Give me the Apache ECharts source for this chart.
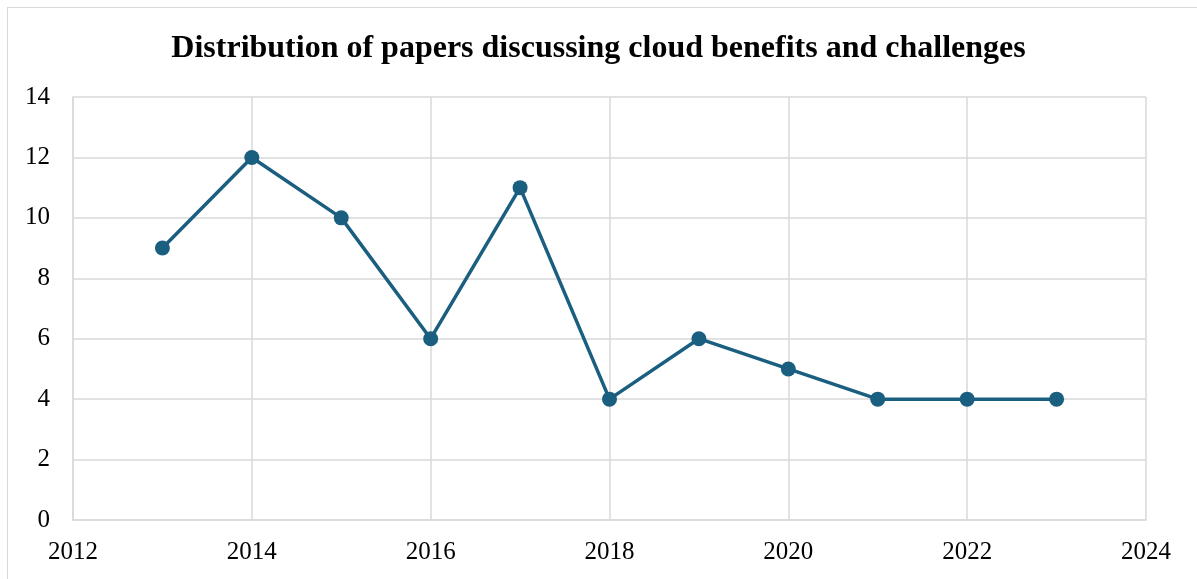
<!DOCTYPE html>
<html><head><meta charset="utf-8">
<script src="https://cdn.jsdelivr.net/npm/echarts@6/dist/echarts.min.js"></script>
<style>
html,body{margin:0;padding:0;background:#fff;}
#frame{position:absolute;left:7px;top:7px;width:1200px;height:600px;border:1.5px solid #d9d9d9;box-sizing:border-box;}
#c{position:absolute;left:0;top:0;width:1197px;height:579px;}
</style>
</head><body>
<div id="frame"></div>
<div id="c"></div>
<script>
const years = [2013, 2014, 2015, 2016, 2017, 2018, 2019, 2020, 2021, 2022, 2023];
const papers = [9, 12, 10, 6, 11, 4, 6, 5, 4, 4, 4];
const titleText = 'Distribution of papers discussing cloud benefits and challenges';

const chart = echarts.init(document.getElementById('c'), null, {renderer: 'canvas'});
const font = '"Liberation Serif", "Times New Roman", serif';
chart.setOption({
  animation: false,
  title: {
    text: titleText, left: 'center', top: 28,
    textStyle: {fontFamily: font, fontWeight: 'bold', fontSize: 32, color: '#000'}
  },
  grid: {left: 73, right: 51, top: 97, bottom: 59, containLabel: false},
  xAxis: {
    type: 'value', min: 2012, max: 2024, interval: 2,
    axisLine: {show: true, lineStyle: {color: '#d9d9d9', width: 1.5}},
    axisTick: {show: false},
    splitLine: {show: true, lineStyle: {color: '#d9d9d9', width: 1.5}},
    axisLabel: {fontFamily: font, fontSize: 25, color: '#000', margin: 20, formatter: v => String(v)}
  },
  yAxis: {
    type: 'value', min: 0, max: 14, interval: 2,
    axisLine: {show: true, lineStyle: {color: '#d9d9d9', width: 1.5}},
    axisTick: {show: false},
    splitLine: {show: true, lineStyle: {color: '#d9d9d9', width: 1.5}},
    axisLabel: {fontFamily: font, fontSize: 25, color: '#000', margin: 23}
  },
  series: [{
    type: 'line',
    data: years.map((y, i) => [y, papers[i]]),
    symbol: 'circle', symbolSize: 15,
    lineStyle: {color: '#1a5f80', width: 3.5},
    itemStyle: {color: '#1a5f80'}
  }]
});
</script>
</body></html>
